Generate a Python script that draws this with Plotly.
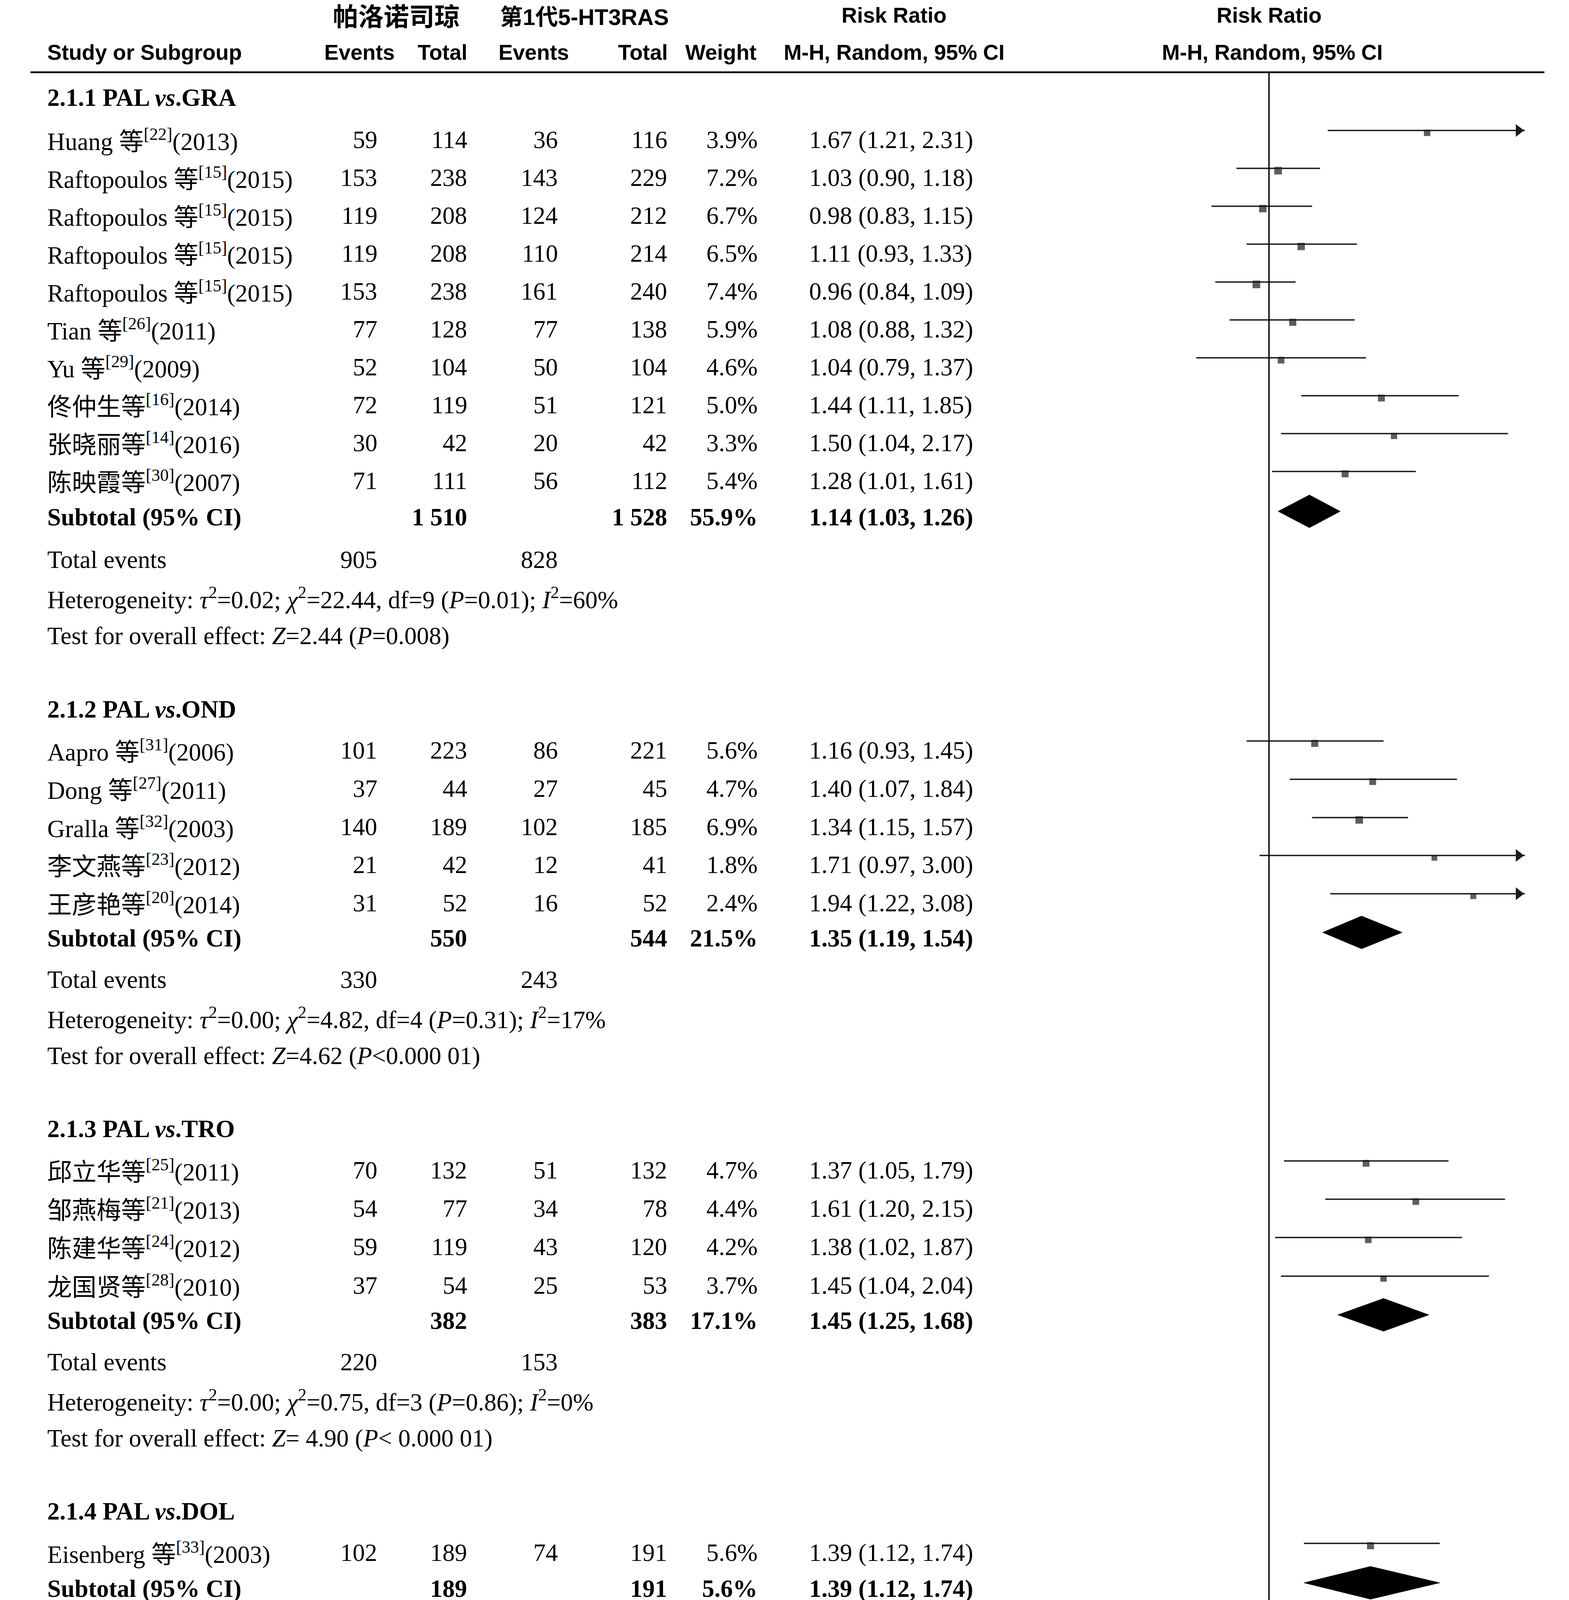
import math
import plotly.graph_objects as go

# ---------------- data ----------------
sub_titles = ["2.1.1 PAL <i>vs</i>.GRA", "2.1.2 PAL <i>vs</i>.OND",
              "2.1.3 PAL <i>vs</i>.TRO", "2.1.4 PAL <i>vs</i>.DOL"]

study_names = [
    "Huang 等<sup>[22]</sup>(2013)", "Raftopoulos 等<sup>[15]</sup>(2015)",
    "Raftopoulos 等<sup>[15]</sup>(2015)", "Raftopoulos 等<sup>[15]</sup>(2015)",
    "Raftopoulos 等<sup>[15]</sup>(2015)", "Tian 等<sup>[26]</sup>(2011)",
    "Yu 等<sup>[29]</sup>(2009)", "佟仲生等<sup>[16]</sup>(2014)",
    "张晓丽等<sup>[14]</sup>(2016)", "陈映霞等<sup>[30]</sup>(2007)",
    "Aapro 等<sup>[31]</sup>(2006)", "Dong 等<sup>[27]</sup>(2011)",
    "Gralla 等<sup>[32]</sup>(2003)", "李文燕等<sup>[23]</sup>(2012)",
    "王彦艳等<sup>[20]</sup>(2014)",
    "邱立华等<sup>[25]</sup>(2011)", "邹燕梅等<sup>[21]</sup>(2013)",
    "陈建华等<sup>[24]</sup>(2012)", "龙国贤等<sup>[28]</sup>(2010)",
    "Eisenberg 等<sup>[33]</sup>(2003)",
]
study_group = [0] * 10 + [1] * 5 + [2] * 4 + [3]
ev_pal = [59, 153, 119, 119, 153, 77, 52, 72, 30, 71, 101, 37, 140, 21, 31, 70, 54, 59, 37, 102]
tot_pal = [114, 238, 208, 208, 238, 128, 104, 119, 42, 111, 223, 44, 189, 42, 52, 132, 77, 119, 54, 189]
ev_ctl = [36, 143, 124, 110, 161, 77, 50, 51, 20, 56, 86, 27, 102, 12, 16, 51, 34, 43, 25, 74]
tot_ctl = [116, 229, 212, 214, 240, 138, 104, 121, 42, 112, 221, 45, 185, 41, 52, 132, 78, 120, 53, 191]
weight = [3.9, 7.2, 6.7, 6.5, 7.4, 5.9, 4.6, 5.0, 3.3, 5.4, 5.6, 4.7, 6.9, 1.8, 2.4, 4.7, 4.4, 4.2, 3.7, 5.6]
rr = [1.67, 1.03, 0.98, 1.11, 0.96, 1.08, 1.04, 1.44, 1.50, 1.28, 1.16, 1.40, 1.34, 1.71, 1.94, 1.37, 1.61, 1.38, 1.45, 1.39]
rr_lo = [1.21, 0.90, 0.83, 0.93, 0.84, 0.88, 0.79, 1.11, 1.04, 1.01, 0.93, 1.07, 1.15, 0.97, 1.22, 1.05, 1.20, 1.02, 1.04, 1.12]
rr_hi = [2.31, 1.18, 1.15, 1.33, 1.09, 1.32, 1.37, 1.85, 2.17, 1.61, 1.45, 1.84, 1.57, 3.00, 3.08, 1.79, 2.15, 1.87, 2.04, 1.74]

sub_tot_pal = [1510, 550, 382, 189]
sub_tot_ctl = [1528, 544, 383, 191]
sub_weight = [55.9, 21.5, 17.1, 5.6]
sub_rr = [1.14, 1.35, 1.45, 1.39]
sub_lo = [1.03, 1.19, 1.25, 1.12]
sub_hi = [1.26, 1.54, 1.68, 1.74]
sub_ev_pal = [905, 330, 220, 102]
sub_ev_ctl = [828, 243, 153, 74]
sub_het = [
    "Heterogeneity: <i>τ</i><sup>2</sup>=0.02; <i>χ</i><sup>2</sup>=22.44, df=9 (<i>P</i>=0.01); <i>I</i><sup>2</sup>=60%",
    "Heterogeneity: <i>τ</i><sup>2</sup>=0.00; <i>χ</i><sup>2</sup>=4.82, df=4 (<i>P</i>=0.31); <i>I</i><sup>2</sup>=17%",
    "Heterogeneity: <i>τ</i><sup>2</sup>=0.00; <i>χ</i><sup>2</sup>=0.75, df=3 (<i>P</i>=0.86); <i>I</i><sup>2</sup>=0%",
    "Heterogeneity: Not applicable",
]
sub_test = [
    "Test for overall effect: <i>Z</i>=2.44 (<i>P</i>=0.008)",
    "Test for overall effect: <i>Z</i>=4.62 (<i>P</i>&lt;0.000 01)",
    "Test for overall effect: <i>Z</i>= 4.90 (<i>P</i>&lt; 0.000 01)",
    "Test for overall effect: <i>Z</i>=2.93 (<i>P</i>=0.003)",
]

all_tot_pal = 2631
all_tot_ctl = 2646
all_weight = 100.0
all_rr, all_lo, all_hi = 1.26, 1.15, 1.37
all_ev_pal = 1557
all_ev_ctl = 1298
all_het = "Heterogeneity: <i>τ</i><sup>2</sup>=0.02; <i>χ</i><sup>2</sup>=50.56, df=19 (P=0.000 1); <i>I</i><sup>2</sup> = 62%"
all_test = "Test for overall effect: <i>Z</i>=5.23 (<i>P</i>&lt;0.000 01)"
all_diff = "Test for subgroup differences:<i>χ</i><sup>2</sup>=9.17, df=3 (<i>P</i>= 0.03), <i>I</i><sup>2</sup>=67.3%"

tick_vals = [0.5, 0.7, 1, 1.5, 2]
tick_text = ["0.5", "0.7", "1", "1.5", "2"]
x_label_left = "利于第1代5-HT3RAS"
x_label_right = "利于帕洛诺司琼"

# ---------------- layout geometry (pixels) ----------------
W, H = 4016, 4997
SERIF = "Liberation Serif, Noto Sans CJK SC, serif"
SANS = "Liberation Sans, Arial, Noto Sans CJK SC, sans-serif"
FS = 63          # body font size
HFS = 55         # header font size
DY = -7          # annotation vertical tweak

head_y = [249, 1815, 2889, 3868]
study_y = [357, 454, 551, 648, 745, 842, 939, 1036, 1133, 1230,
           1920, 2018, 2116, 2213, 2311,
           2995, 3093, 3191, 3290,
           3974]
sub_y = [1323, 2401, 3380, 4066]
sub_te_y = [1432, 2507, 3486, 4171]
sub_het_y = [1530, 2605, 3584, 4270]
sub_test_y = [1627, 2702, 3681, 4366]
all_y, all_te_y, all_het_y, all_test_y, all_diff_y = 4552, 4659, 4762, 4855, 4956

X_STUDY = 111
X_EV1, X_TOT1, X_EV2, X_TOT2, X_W = 960, 1190, 1422, 1702, 1933
X_RR = 2061

PX0, PX1 = 2585, 3895
AXIS_Y = 4726
TOP_Y = 177
XMIN, XMAX = 0.436, 2.293
PX_PER_LN = (PX1 - PX0) / math.log(XMAX / XMIN)

annotations = []


def txt(x, y, s, anchor="left", family=SERIF, size=FS, bold=False):
    annotations.append(dict(
        x=x / W, xref="paper", y=y + DY, yref="y", text=s, showarrow=False,
        xanchor=anchor, yanchor="middle",
        font=dict(family=family, size=size, color="black",
                  weight="bold" if bold else "normal")))


def fmt_n(n):
    return f"{n:,}".replace(",", " ")


def fmt_rr(a, b, c):
    return f"{a:.2f} ({b:.2f}, {c:.2f})"


txt(1006, 42, "帕洛诺司琼", "center", SANS, 65, True)
txt(1488, 42, "第1代5-HT3RAS", "center", SANS, 58, True)
txt(2280, 38, "Risk Ratio", "center", SANS, HFS, True)
txt(3240, 38, "Risk Ratio", "center", SANS, HFS, True)
txt(X_STUDY, 133, "Study or Subgroup", "left", SANS, HFS, True)
txt(1004, 133, "Events", "right", SANS, HFS, True)
txt(1190, 133, "Total", "right", SANS, HFS, True)
txt(1450, 133, "Events", "right", SANS, HFS, True)
txt(1703, 133, "Total", "right", SANS, HFS, True)
txt(1930, 133, "Weight", "right", SANS, HFS, True)
txt(2280, 133, "M-H, Random, 95% CI", "center", SANS, HFS, True)
txt(3248, 133, "M-H, Random, 95% CI", "center", SANS, HFS, True)

for g in range(4):
    txt(X_STUDY, head_y[g], sub_titles[g], bold=True)
for i in range(len(study_names)):
    y = study_y[i]
    txt(X_STUDY, y, study_names[i])
    txt(X_EV1, y, str(ev_pal[i]), "right")
    txt(X_TOT1, y, str(tot_pal[i]), "right")
    txt(X_EV2, y, str(ev_ctl[i]), "right")
    txt(X_TOT2, y, str(tot_ctl[i]), "right")
    txt(X_W, y, f"{weight[i]:.1f}%", "right")
    txt(X_RR, y, fmt_rr(rr[i], rr_lo[i], rr_hi[i]))
for g in range(4):
    y = sub_y[g]
    txt(X_STUDY, y, "Subtotal (95% CI)", bold=True)
    txt(X_TOT1, y, fmt_n(sub_tot_pal[g]), "right", bold=True)
    txt(X_TOT2, y, fmt_n(sub_tot_ctl[g]), "right", bold=True)
    txt(X_W, y, f"{sub_weight[g]:.1f}%", "right", bold=True)
    txt(X_RR, y, fmt_rr(sub_rr[g], sub_lo[g], sub_hi[g]), bold=True)
    txt(X_STUDY, sub_te_y[g], "Total events")
    txt(X_EV1, sub_te_y[g], fmt_n(sub_ev_pal[g]), "right")
    txt(X_EV2, sub_te_y[g], fmt_n(sub_ev_ctl[g]), "right")
    txt(X_STUDY, sub_het_y[g], sub_het[g])
    txt(X_STUDY, sub_test_y[g], sub_test[g])

txt(X_STUDY, all_y, "Total (95% CI)", bold=True)
txt(X_TOT1, all_y, fmt_n(all_tot_pal), "right", bold=True)
txt(X_TOT2, all_y, fmt_n(all_tot_ctl), "right", bold=True)
txt(X_W, all_y, f"{all_weight:.1f}%", "right", bold=True)
txt(X_RR, all_y, fmt_rr(all_rr, all_lo, all_hi), bold=True)
txt(X_STUDY, all_te_y, "Total events")
txt(X_EV1, all_te_y, fmt_n(all_ev_pal), "right")
txt(X_EV2, all_te_y, fmt_n(all_ev_ctl), "right")
txt(X_STUDY, all_het_y, all_het)
txt(X_STUDY, all_test_y, all_test)
txt(X_STUDY, all_diff_y, all_diff)

txt(2960, 4891, x_label_left, "center", SANS, 60, True)
txt(3566, 4891, x_label_right, "center", SANS, 60, True)

LINE_DY = -31
MARK_DY = -25
DIA_DY = -22
DIA_H = 42

fig = go.Figure()

lx, ly = [], []
for i in range(len(rr)):
    yy = study_y[i] + LINE_DY
    lx += [rr_lo[i], rr_hi[i], None]
    ly += [yy, yy, None]
fig.add_trace(go.Scatter(x=lx, y=ly, mode="lines", line=dict(color="#1a1a1a", width=3.5),
                         hoverinfo="skip", showlegend=False))

fig.add_trace(go.Scatter(
    x=rr, y=[y + MARK_DY for y in study_y], mode="markers",
    marker=dict(symbol="square", color="#1a1a1a", size=[13 + 0.9 * w for w in weight],
                line=dict(width=0)),
    hoverinfo="skip", showlegend=False))

ARW = 28
arrow_shift = (ARW / 2) * 2 / math.sqrt(3)
ax_ = [XMAX * math.exp(-arrow_shift / PX_PER_LN) for i in range(len(rr)) if rr_hi[i] > XMAX]
ay_ = [study_y[i] + LINE_DY for i in range(len(rr)) if rr_hi[i] > XMAX]
fig.add_trace(go.Scatter(x=ax_, y=ay_, mode="markers", cliponaxis=False,
                         marker=dict(symbol="triangle-right", color="#1a1a1a", size=ARW,
                                     line=dict(width=0)),
                         hoverinfo="skip", showlegend=False))

dx, dy = [], []
for g in range(4):
    c = sub_y[g] + DIA_DY
    dx += [sub_lo[g], sub_rr[g], sub_hi[g], sub_rr[g], sub_lo[g], None]
    dy += [c, c - DIA_H, c, c + DIA_H, c, None]
c = all_y + DIA_DY
dx += [all_lo, all_rr, all_hi, all_rr, all_lo]
dy += [c, c - DIA_H, c, c + DIA_H, c]
fig.add_trace(go.Scatter(x=dx, y=dy, mode="lines", fill="toself", fillcolor="black",
                         line=dict(color="black", width=1), hoverinfo="skip", showlegend=False))

fig.add_trace(go.Scatter(x=[1], y=[-1000], xaxis="x2", mode="markers",
                         marker=dict(opacity=0), hoverinfo="skip", showlegend=False))

axis_pos = 1 - AXIS_Y / H
dom = [PX0 / W, PX1 / W]
rng = [math.log10(XMIN), math.log10(XMAX)]

shapes = [
    dict(type="line", xref="paper", yref="y", x0=70 / W, x1=3945 / W, y0=TOP_Y, y1=TOP_Y,
         line=dict(color="black", width=4.5)),
    dict(type="line", xref="x", yref="y", x0=1, x1=1, y0=TOP_Y, y1=AXIS_Y,
         line=dict(color="black", width=3.5)),
]

fig.update_layout(
    width=W, height=H, margin=dict(l=0, r=0, t=0, b=0),
    paper_bgcolor="white", plot_bgcolor="rgba(0,0,0,0)",
    showlegend=False,
    xaxis=dict(type="log", domain=dom, range=rng, anchor="free", position=axis_pos,
               showline=True, linecolor="black", linewidth=4.5,
               ticks="outside", ticklen=26, tickwidth=3.5, tickcolor="black",
               tickvals=tick_vals, ticktext=tick_text,
               tickfont=dict(family=SANS, size=58, color="black", weight="bold"),
               showgrid=False, zeroline=False, fixedrange=True),
    xaxis2=dict(type="log", overlaying="x", matches="x", side="top", anchor="free",
                position=axis_pos, domain=dom, range=rng,
                showline=False, ticks="outside", ticklen=26, tickwidth=3.5, tickcolor="black",
                tickvals=tick_vals, showticklabels=False, showgrid=False, zeroline=False),
    yaxis=dict(domain=[0, 1], range=[H, 0], visible=False, showgrid=False,
               zeroline=False, fixedrange=True),
    annotations=annotations,
    shapes=shapes,
)

fig.write_html("out.html", config={"displayModeBar": False})
